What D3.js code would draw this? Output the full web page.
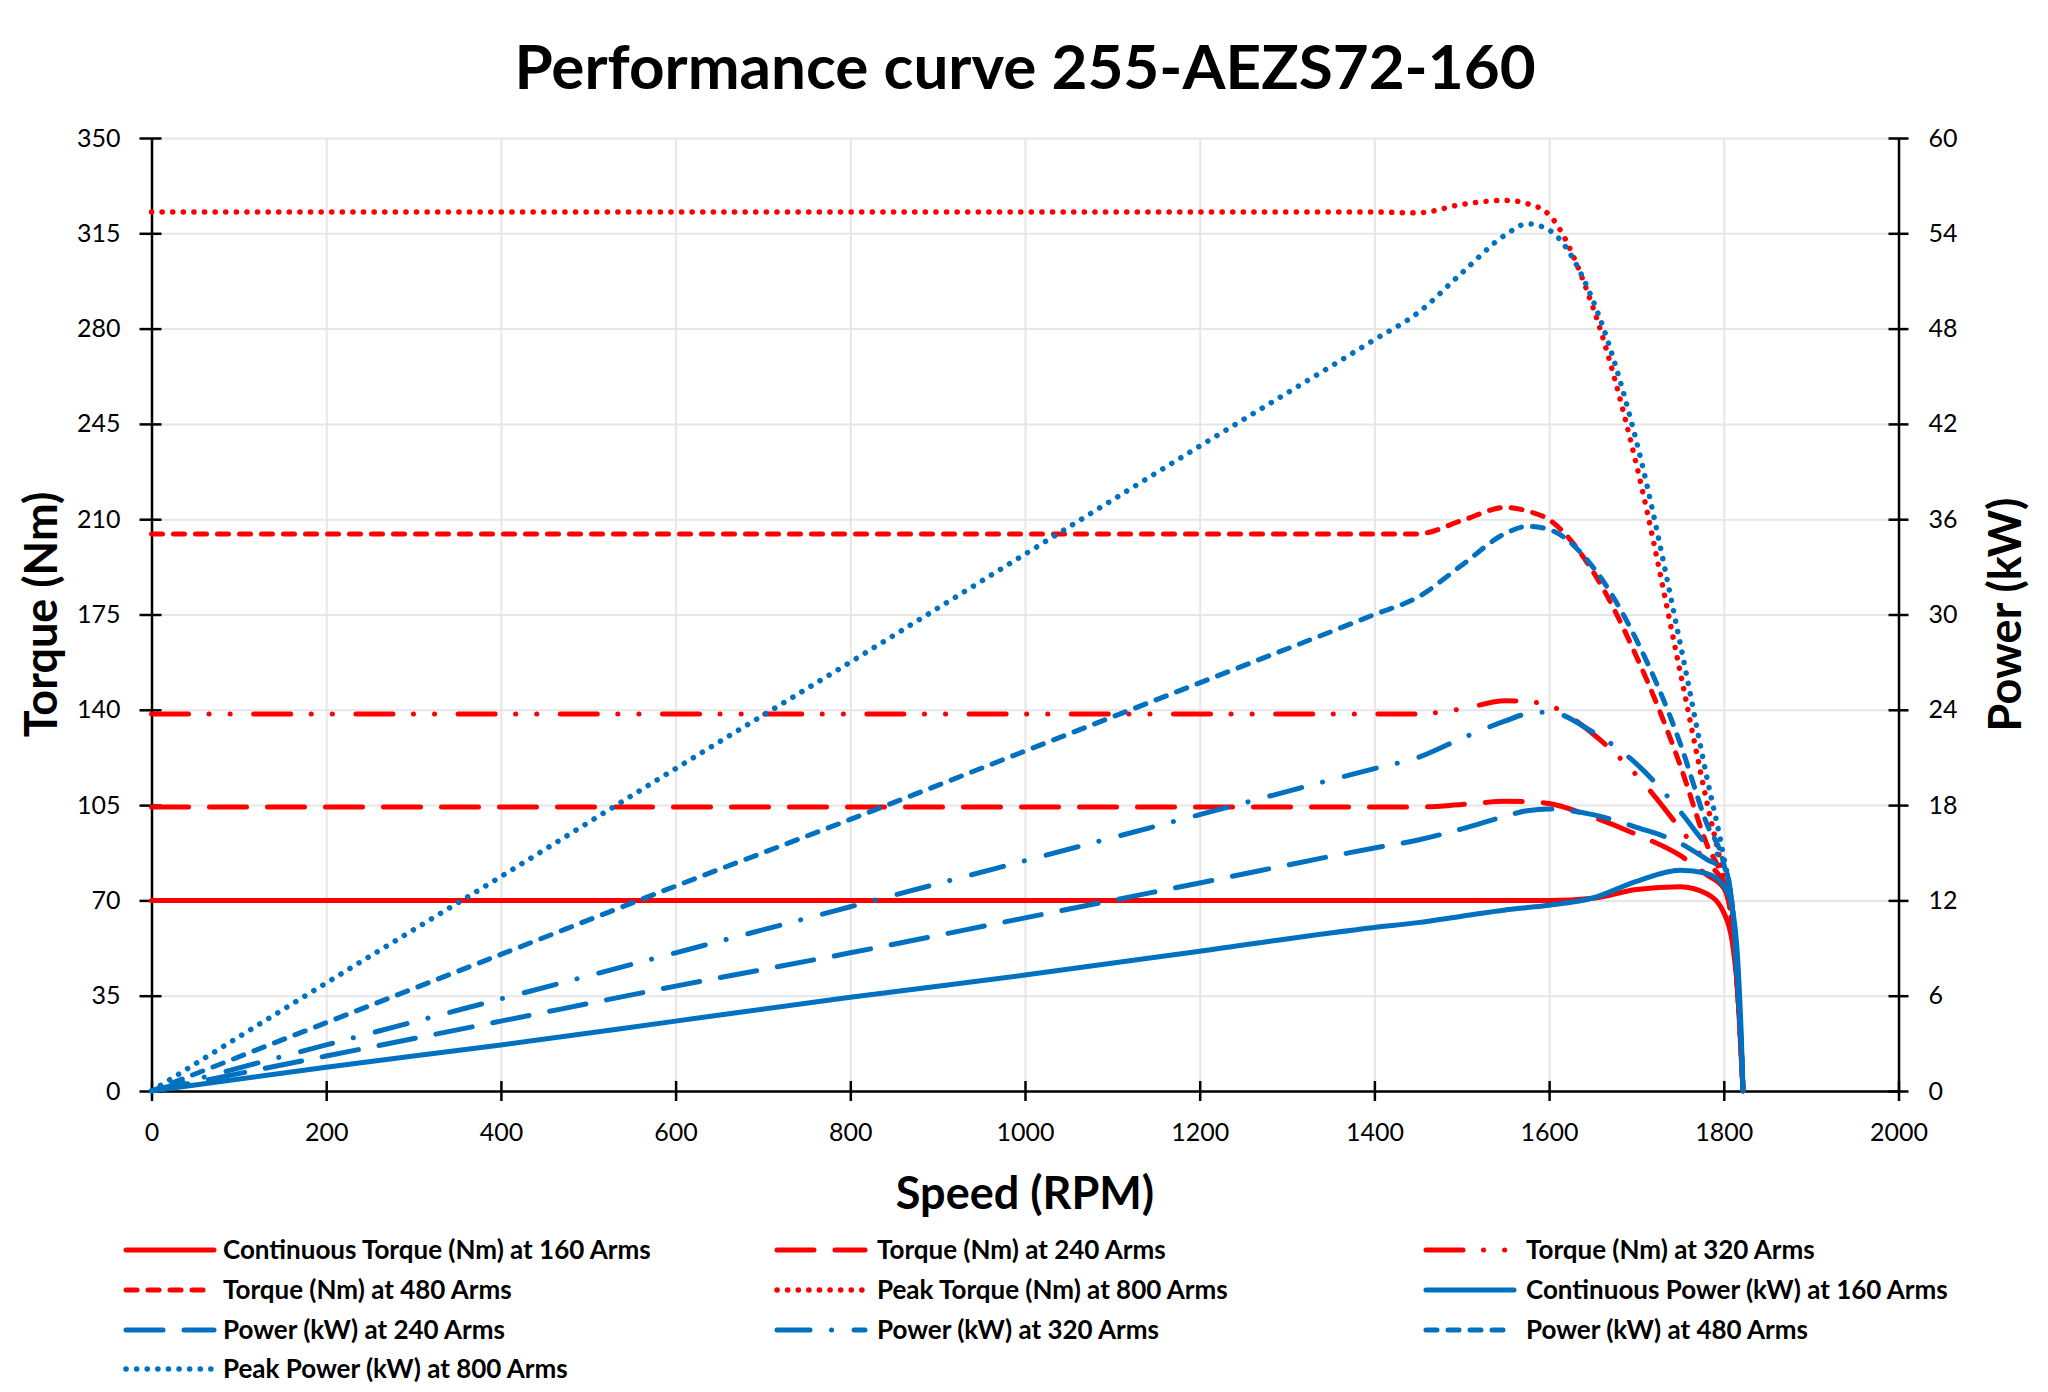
<!DOCTYPE html>
<html>
<head>
<meta charset="utf-8">
<title>Performance curve 255-AEZS72-160</title>
<script src="https://cdn.jsdelivr.net/npm/d3@7"></script>
<style>
    body { margin: 0; background: #fff; }
    svg { display: block; }
    text { font-family: Lato, "Open Sans", sans-serif; fill: #000; }
</style>
</head>
<body>
<svg id="chart"></svg>
<script>
// Speed points (RPM) shared by every series
const speeds = [0, 200, 400, 600, 800, 1000, 1200, 1400, 1450, 1500, 1550, 1575, 1600, 1650, 1700, 1750, 1780, 1800, 1810, 1816, 1820, 1822];

// Torque (Nm)
const torque160 = [70, 70, 70, 70, 70, 70, 70, 70, 70, 70, 70, 70, 70, 70.8, 74.0, 75.0, 72.5, 65.5, 54, 36, 12, 0];
const torque240 = [104.3, 104.3, 104.3, 104.3, 104.3, 104.3, 104.3, 104.3, 104.3, 105.2, 106.4, 106.3, 105.6, 100.6, 94.2, 86.5, 79.5, 74.5, 60, 36, 14, 0];
const torque320 = [138.5, 138.5, 138.5, 138.5, 138.5, 138.5, 138.5, 138.5, 138.5, 140.3, 143.3, 143.0, 141.6, 131.2, 116.0, 96.4, 84.0, 76.0, 60, 36, 14, 0];
const torque480 = [204.6, 204.6, 204.6, 204.6, 204.6, 204.6, 204.6, 204.6, 204.6, 209.5, 214.3, 213.0, 209.8, 190.9, 159.6, 119.7, 91.0, 76.0, 60, 36, 14, 0];
const torque800 = [322.8, 322.8, 322.8, 322.8, 322.8, 322.8, 322.8, 322.8, 322.5, 325.6, 327.1, 325.9, 321.8, 288.0, 230.0, 154.0, 107.0, 78.0, 60, 36, 14, 0];

// Power (kW)
const power160 = [0, 1.5, 2.9, 4.4, 5.9, 7.3, 8.8, 10.3, 10.6, 11.0, 11.4, 11.55, 11.7, 12.15, 13.2, 13.9, 13.7, 12.9, 11.4, 8.2, 3.5, 0];
const power240 = [0, 2.2, 4.4, 6.6, 8.7, 10.9, 13.1, 15.3, 15.8, 16.5, 17.3, 17.65, 17.75, 17.4, 16.6, 15.6, 14.6, 13.9, 11.4, 6.8, 2.8, 0];
const power320 = [0, 2.9, 5.8, 8.7, 11.6, 14.5, 17.4, 20.3, 21.0, 22.2, 23.3, 23.75, 23.85, 22.6, 20.6, 17.6, 15.5, 14.3, 11.4, 6.8, 2.8, 0];
const power480 = [0, 4.3, 8.6, 12.9, 17.1, 21.4, 25.7, 30.0, 31.1, 33.1, 35.1, 35.55, 35.35, 33.0, 28.4, 21.9, 16.9, 14.3, 11.4, 6.8, 2.8, 0];
const power800 = [0, 6.8, 13.5, 20.3, 27.0, 33.8, 40.6, 47.3, 49.0, 51.5, 53.9, 54.6, 54.2, 49.8, 40.9, 28.2, 19.9, 14.7, 11.4, 6.8, 2.8, 0];

// Tick values
const speedTicks = [0, 200, 400, 600, 800, 1000, 1200, 1400, 1600, 1800, 2000];
const torqueTicks = [0, 35, 70, 105, 140, 175, 210, 245, 280, 315, 350];
const powerTicks = [0, 6, 12, 18, 24, 30, 36, 42, 48, 54, 60];

const RED = '#ff0000';
const BLUE = '#0070c0';

// dash patterns (round caps)
const DASH = {
    solid: null,
    longDash: '37 21',
    longDashDotDot: '37 20.5 0.1 21 0.1 23.5',
    longDashDot: '33 21.5 0.1 22.5',
    dash: '11 11',
    dot: '0.1 10.5'
};

const series = [
    { name: 'Continuous Torque (Nm) at 160 Arms', values: torque160, axis: 'T', color: RED, dash: DASH.solid },
    { name: 'Torque (Nm) at 240 Arms', values: torque240, axis: 'T', color: RED, dash: DASH.longDash },
    { name: 'Torque (Nm) at 320 Arms', values: torque320, axis: 'T', color: RED, dash: DASH.longDashDotDot },
    { name: 'Torque (Nm) at 480 Arms', values: torque480, axis: 'T', color: RED, dash: DASH.dash },
    { name: 'Peak Torque (Nm) at 800 Arms', values: torque800, axis: 'T', color: RED, dash: DASH.dot },
    { name: 'Continuous Power (kW) at 160 Arms', values: power160, axis: 'P', color: BLUE, dash: DASH.solid },
    { name: 'Power (kW) at 240 Arms', values: power240, axis: 'P', color: BLUE, dash: DASH.longDash },
    { name: 'Power (kW) at 320 Arms', values: power320, axis: 'P', color: BLUE, dash: DASH.longDashDot },
    { name: 'Power (kW) at 480 Arms', values: power480, axis: 'P', color: BLUE, dash: DASH.dash },
    { name: 'Peak Power (kW) at 800 Arms', values: power800, axis: 'P', color: BLUE, dash: DASH.dot }
];

const W = 2048, H = 1392;
const plot = { left: 151.5, right: 1898.5, top: 138, bottom: 1091 };

const svg = d3.select('#chart').attr('width', W).attr('height', H);

const x = d3.scaleLinear().domain([0, 2000]).range([plot.left, plot.right]);
const yT = d3.scaleLinear().domain([0, 350]).range([plot.bottom, plot.top]);
const yP = d3.scaleLinear().domain([0, 60]).range([plot.bottom, plot.top]);

// Gridlines
const grid = svg.append('g').attr('class', 'grid');
grid.append('g')
    .attr('transform', `translate(0, ${plot.bottom})`)
    .call(d3.axisBottom(x).tickValues(speedTicks).tickSize(-(plot.bottom - plot.top)).tickFormat(''));
grid.append('g')
    .attr('transform', `translate(${plot.left}, 0)`)
    .call(d3.axisLeft(yT).tickValues(torqueTicks).tickSize(-(plot.right - plot.left)).tickFormat(''));
grid.selectAll('.domain').remove();
grid.selectAll('line').attr('stroke', '#e6e6e6').attr('stroke-width', 2);

// Axes
const axisStyle = g => {
    g.select('.domain').attr('stroke', '#000').attr('stroke-width', 2.5);
    g.selectAll('.tick line').attr('stroke', '#000').attr('stroke-width', 2.5);
    g.selectAll('.tick text').style('font-size', '25px').style('font-family', 'Lato, sans-serif').attr('fill', '#000');
};

const xAxis = svg.append('g')
    .attr('transform', `translate(0, ${plot.bottom})`)
    .call(d3.axisBottom(x).tickValues(speedTicks).tickFormat(d3.format('d'))
        .tickSizeInner(10).tickSizeOuter(0).tickPadding(22))
    .call(axisStyle);
xAxis.selectAll('.tick line').attr('y1', -10).attr('y2', 10);

const yAxisL = svg.append('g')
    .attr('transform', `translate(${plot.left}, 0)`)
    .call(d3.axisLeft(yT).tickValues(torqueTicks).tickSizeInner(12).tickSizeOuter(0).tickPadding(19))
    .call(axisStyle);
yAxisL.selectAll('.tick line').attr('x1', 10).attr('x2', -12);

const yAxisR = svg.append('g')
    .attr('transform', `translate(${plot.right}, 0)`)
    .call(d3.axisRight(yP).tickValues(powerTicks).tickSizeInner(10).tickSizeOuter(0).tickPadding(20))
    .call(axisStyle);
yAxisR.selectAll('.tick line').attr('x1', -10).attr('x2', 10);

// Series lines
const lineT = d3.line().x((d, i) => x(speeds[i])).y(d => yT(d)).curve(d3.curveMonotoneX);
const lineP = d3.line().x((d, i) => x(speeds[i])).y(d => yP(d)).curve(d3.curveMonotoneX);

svg.append('g').attr('class', 'series')
    .selectAll('path')
    .data(series)
    .join('path')
    .attr('d', s => (s.axis === 'T' ? lineT : lineP)(s.values))
    .attr('fill', 'none')
    .attr('stroke', s => s.color)
    .attr('stroke-width', s => s.dash === DASH.dot ? 5.5 : 5)
    .attr('stroke-linecap', 'round')
    .attr('stroke-linejoin', 'round')
    .attr('stroke-dasharray', s => s.dash);

// Titles
svg.append('text')
    .attr('x', (plot.left + plot.right) / 2)
    .attr('y', 89)
    .attr('text-anchor', 'middle')
    .style('font-size', '62px')
    .style('font-weight', 'bold')
    .text('Performance curve 255-AEZS72-160');

svg.append('text')
    .attr('x', (plot.left + plot.right) / 2)
    .attr('y', 1209)
    .attr('text-anchor', 'middle')
    .style('font-size', '45px')
    .style('font-weight', 'bold')
    .text('Speed (RPM)');

svg.append('text')
    .attr('transform', `translate(41, ${(plot.top + plot.bottom) / 2}) rotate(-90)`)
    .attr('text-anchor', 'middle')
    .attr('dy', '0.35em')
    .style('font-size', '45px')
    .style('font-weight', 'bold')
    .text('Torque (Nm)');

svg.append('text')
    .attr('transform', `translate(2005, ${(plot.top + plot.bottom) / 2}) rotate(-90)`)
    .attr('text-anchor', 'middle')
    .attr('dy', '0.35em')
    .style('font-size', '45px')
    .style('font-weight', 'bold')
    .text('Power (kW)');

// Legend (3 columns, row-major)
const legendCols = [124, 775, 1424];
const legendTextX = [99, 102, 102];
const legendRows = [1250, 1290, 1330, 1369];
const legend = svg.append('g').attr('class', 'legend')
    .selectAll('g')
    .data(series)
    .join('g')
    .attr('transform', (s, i) => `translate(${legendCols[i % 3]}, ${legendRows[Math.floor(i / 3)]})`);

legend.append('line')
    .attr('x1', 2).attr('x2', 90)
    .attr('stroke', s => s.color)
    .attr('stroke-width', s => s.dash === DASH.dot ? 5.5 : 5)
    .attr('stroke-linecap', 'round')
    .attr('stroke-dasharray', s => s.dash);

legend.append('text')
    .attr('x', (s, i) => legendTextX[i % 3])
    .attr('dy', '0.35em')
    .style('font-size', '26px')
    .style('font-weight', 'bold')
    .text(s => s.name);
</script>
</body>
</html>
